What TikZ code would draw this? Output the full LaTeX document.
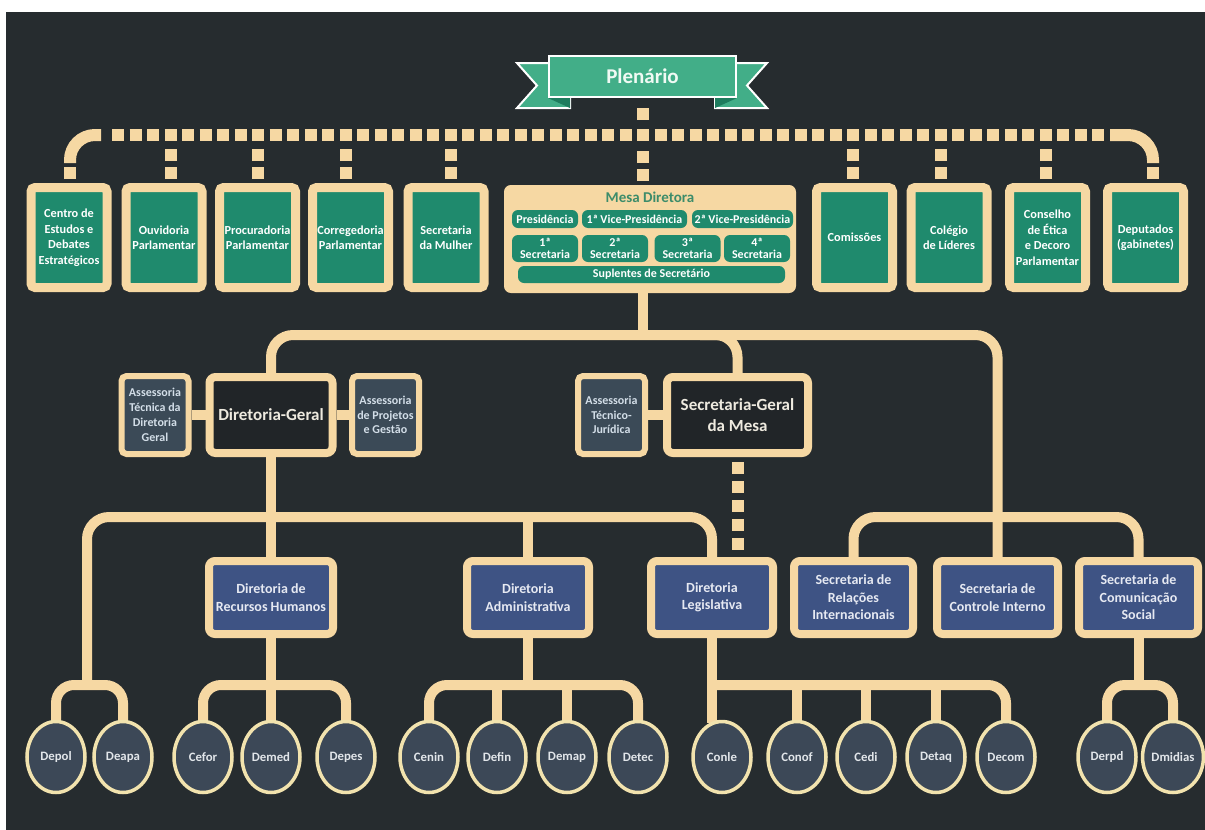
\documentclass[tikz,border=0pt]{standalone}
\usepackage{fontspec}
\setmainfont{Carlito}
\usetikzlibrary{shapes.geometric}
\definecolor{bg}{HTML}{262C2F}
\definecolor{cream}{HTML}{F6D8A3}
\definecolor{grn}{HTML}{1F8A6D}
\definecolor{bnr}{HTML}{42AE88}
\definecolor{bnrd}{HTML}{1E7C5E}
\definecolor{blu}{HTML}{3E5384}
\definecolor{slate}{HTML}{3B4A57}
\definecolor{ellf}{HTML}{3C4857}
\definecolor{ellb}{HTML}{F2E3AE}
\definecolor{dk}{HTML}{212528}
\definecolor{mesatxt}{HTML}{3C8C6A}
\pgfdeclarelayer{back}
\pgfdeclarelayer{links}
\pgfsetlayers{back,links,main}
\begin{document}
\begin{tikzpicture}[x=1pt,y=-1pt,
  topbox/.style={draw=cream,fill=grn,line width=9pt,rounded corners=4pt,inner sep=0pt,text=white,align=center,
    font=\bfseries\fontsize{12.3}{15.5}\selectfont,minimum width=76pt,minimum height=100pt},
  pill/.style={fill=grn,rounded corners=6pt,inner sep=0pt,text=white,align=center,
    font=\bfseries\fontsize{12}{11.5}\selectfont},
  darkbox/.style={draw=cream,fill=dk,line width=8pt,rounded corners=6pt,inner sep=0pt,text={rgb,255:red,238;green,234;blue,223},align=center,
    font=\bfseries\fontsize{17}{21}\selectfont,minimum height=76pt},
  assbox/.style={draw=cream,fill=slate,line width=6pt,rounded corners=5pt,inner sep=0pt,text={rgb,255:red,211;green,222;blue,232},align=center,
    font=\bfseries\fontsize{12}{14.8}\selectfont,minimum width=67pt,minimum height=78pt},
  bluebox/.style={draw=cream,fill=blu,line width=8pt,rounded corners=6pt,inner sep=0pt,text={rgb,255:red,230;green,233;blue,242},align=center,
    font=\bfseries\fontsize{14}{17.5}\selectfont,minimum height=73pt},
  oval/.style={ellipse,draw=ellb,fill=ellf,line width=3.5pt,inner sep=0pt,minimum width=58pt,minimum height=71pt,
    text={rgb,255:red,226;green,230;blue,234},font=\bfseries\fontsize{12.8}{14}\selectfont},
  conn/.style={draw=cream,line width=10pt,rounded corners=22pt},
  arch/.style={draw=cream,line width=10pt,rounded corners=18pt},
  hdots/.style={draw=cream,line width=12pt,dash pattern=on 12pt off 5.5pt},
  vdots/.style={draw=cream,line width=12pt,dash pattern=on 0pt off 4pt on 12pt off 6pt on 12pt off 60pt},
  corner/.style={draw=cream,line width=12pt,rounded corners=25pt}
]
\useasboundingbox (0,0) rectangle (1205,830);
\begin{pgfonlayer}{back}
\fill[white] (0,0) rectangle (1205,830);
\fill[bg] (6,12) rectangle (1205,830);
\end{pgfonlayer}

% banner
\filldraw[fill=bnr,draw=white,line width=2pt,line join=miter] (570,63) -- (517,63) -- (537,85.5) -- (517,108) -- (570,108) -- cycle;
\filldraw[fill=bnr,draw=white,line width=2pt,line join=miter] (715,63) -- (767,63) -- (747,85.5) -- (767,108) -- (715,108) -- cycle;
\fill[bnrd] (548,98) -- (570,98) -- (570,108) -- cycle;
\fill[bnrd] (737,98) -- (715,98) -- (715,108) -- cycle;
\node[draw=white,fill=bnr,line width=2pt,minimum width=187pt,minimum height=41pt,inner sep=0pt,text={rgb,255:red,240;green,250;blue,244},
  font=\bfseries\fontsize{21}{24}\selectfont] (plen) at (642.5,76.5) {Plenário};

% top row
\node[topbox] (cen) at (69,237.5) {Centro de\\Estudos e\\Debates\\Estratégicos};
\node[topbox] (ouv) at (164,237.5) {Ouvidoria\\Parlamentar};
\node[topbox] (pro) at (257.5,237.5) {Procuradoria\\Parlamentar};
\node[topbox] (cor) at (350.5,237.5) {Corregedoria\\Parlamentar};
\node[topbox] (mul) at (446,237.5) {Secretaria\\da Mulher};
\node[topbox] (com) at (854.5,237.5) {Comissões};
\node[topbox] (col) at (949,237.5) {Colégio\\de Líderes};
\node[topbox] (con) at (1047.5,237.5) {Conselho\\de Ética\\e Decoro\\Parlamentar};
\node[topbox] (dep) at (1145.5,237.5) {Deputados\\(gabinetes)};

% mesa diretora
\node[draw=cream,fill=cream,line width=2pt,rounded corners=6pt,minimum width=290pt,minimum height=106pt,inner sep=0pt] (mesa) at (650,239) {};
\node[text=mesatxt,font=\bfseries\fontsize{15}{16}\selectfont,inner sep=0pt] (mtit) at (650,197.5) {Mesa Diretora};
\node[pill,minimum width=66pt,minimum height=18pt] (pres) at (545,219) {Presidência};
\node[pill,minimum width=105pt,minimum height=18pt] (vp1) at (634.5,219) {1ª Vice-Presidência};
\node[pill,minimum width=101pt,minimum height=18pt] (vp2) at (742.5,219) {2ª Vice-Presidência};
\node[pill,minimum width=66pt,minimum height=27pt] (s1) at (545,248.5) {1ª\\Secretaria};
\node[pill,minimum width=66pt,minimum height=27pt] (s2) at (615,248.5) {2ª\\Secretaria};
\node[pill,minimum width=66pt,minimum height=27pt] (s3) at (687.5,248.5) {3ª\\Secretaria};
\node[pill,minimum width=66pt,minimum height=27pt] (s4) at (757,248.5) {4ª\\Secretaria};
\node[pill,minimum width=267pt,minimum height=17pt] (sup) at (651.5,274.5) {Suplentes de Secretário};

% middle level
\node[darkbox,minimum width=123pt] (dg) at (271,415) {Diretoria-Geral};
\node[darkbox,minimum width=141pt] (sgm) at (737.5,415) {Secretaria-Geral\\da Mesa};
\node[assbox] (atdg) at (155,415) {Assessoria\\Técnica da\\Diretoria\\Geral};
\node[assbox] (apg) at (385.5,415) {Assessoria\\de Projetos\\e Gestão};
\node[assbox] (atj) at (611.5,415) {Assessoria\\Técnico-\\Jurídica};

% blue level
\node[bluebox,minimum width=124pt] (drh) at (271,597.5) {Diretoria de\\Recursos Humanos};
\node[bluebox,minimum width=122pt] (da) at (528,597.5) {Diretoria\\Administrativa};
\node[bluebox,minimum width=122pt] (dl) at (712,597.5) {Diretoria\\Legislativa};
\node[bluebox,minimum width=119pt] (sri) at (853.5,597.5) {Secretaria de\\Relações\\Internacionais};
\node[bluebox,minimum width=121pt] (sci) at (997.5,597.5) {Secretaria de\\Controle Interno};
\node[bluebox,minimum width=119pt] (scs) at (1138.5,597.5) {Secretaria de\\Comunicação\\Social};

% ovals
\node[oval] (depol) at (56,757) {Depol};
\node[oval] (deapa) at (123,757) {Deapa};
\node[oval] (cefor) at (203,757) {Cefor};
\node[oval] (demed) at (271,757) {Demed};
\node[oval] (depes) at (346,757) {Depes};
\node[oval] (cenin) at (429,757) {Cenin};
\node[oval] (defin) at (497,757) {Defin};
\node[oval] (demap) at (567,757) {Demap};
\node[oval] (detec) at (638,757) {Detec};
\node[oval] (conle) at (722,757) {Conle};
\node[oval] (conof) at (797,757) {Conof};
\node[oval] (cedi) at (866,757) {Cedi};
\node[oval] (detaq) at (936,757) {Detaq};
\node[oval] (decom) at (1006,757) {Decom};
\node[oval] (derpd) at (1107,757) {Derpd};
\node[oval] (dmidias) at (1173,757) {Dmidias};

% coordinates on the dotted line
\coordinate (hcen) at (70,163);
\coordinate (houv) at (170.5,141);
\coordinate (hpro) at (258,141);
\coordinate (hcor) at (345.5,141);
\coordinate (hmul) at (450.5,141);
\coordinate (hmes) at (643,141);
\coordinate (hcom) at (853,141);
\coordinate (hcol) at (940.5,141);
\coordinate (hcon) at (1045.5,141);
\coordinate (hdep) at (1153,163);

\begin{pgfonlayer}{links}
% dotted top structure
\draw[draw=cream,line width=12pt,dash pattern=on 0pt off 10pt on 12pt off 60pt] (plen.south) -- (642.5,129);
\draw[hdots] (112,135) -- (1104,135);
\draw[corner] (hcen) -- (70,135) -- (101,135);
\draw[corner] (1110,135) -- (1153,135) -- (hdep);
\draw[vdots] (hcen |- cen.north) -- (hcen);
\draw[vdots] (houv |- ouv.north) -- (houv);
\draw[vdots] (hpro |- pro.north) -- (hpro);
\draw[vdots] (hcor |- cor.north) -- (hcor);
\draw[vdots] (hmul |- mul.north) -- (hmul);
\draw[vdots] (hmes |- mesa.north) -- (hmes);
\draw[vdots] (hcom |- com.north) -- (hcom);
\draw[vdots] (hcol |- col.north) -- (hcol);
\draw[vdots] (hcon |- con.north) -- (hcon);
\draw[vdots] (hdep |- dep.north) -- (hdep);

% mesa to level 2
\draw[conn] (hmes |- mesa.south) -- (643,340);
\draw[conn] (dg.north) -- (271,335) -- (997.5,335) -- (sci.north);
\draw[conn] (700,335) -| (sgm.north);
\draw[conn] (atdg) -- (dg);
\draw[conn] (dg) -- (apg);
\draw[conn] (atj) -- (sgm);
\draw[draw=cream,line width=12pt,dash pattern=on 12pt off 7pt,dash phase=14pt] (sgm.south) -- (sgm.south |- dl.north);

% diretoria-geral branch
\draw[conn] (dg.south) -- (drh.north);
\draw[conn] (87,687) -- (87,517) -- (712,517) -- (dl.north);
\draw[conn] (528,517) -- (da.north);
\draw[conn] (sri.north) -- (853.5,517) -- (1138.5,517) -- (scs.north);

% ovals
\draw[arch] (depol.north) -- (56,685) -- (123,685) -- (deapa.north);
\draw[conn] (drh.south) -- (demed.north);
\draw[arch] (cefor.north) -- (203,685) -- (346,685) -- (depes.north);
\draw[conn] (da.south) -- (528,690);
\draw[arch] (cenin.north) -- (429,685) -- (638,685) -- (detec.north);
\draw[conn] (497,685) -- (defin.north);
\draw[conn] (567,685) -- (demap.north);
\draw[conn] (dl.south) -- (712,723);
\draw[arch] (708,685) -- (1006,685) -- (decom.north);
\draw[conn] (797,685) -- (conof.north);
\draw[conn] (866,685) -- (cedi.north);
\draw[conn] (936,685) -- (detaq.north);
\draw[conn] (scs.south) -- (1138.5,690);
\draw[arch] (derpd.north) -- (1107,685) -- (1173,685) -- (dmidias.north);
\end{pgfonlayer}
\end{tikzpicture}
\end{document}
